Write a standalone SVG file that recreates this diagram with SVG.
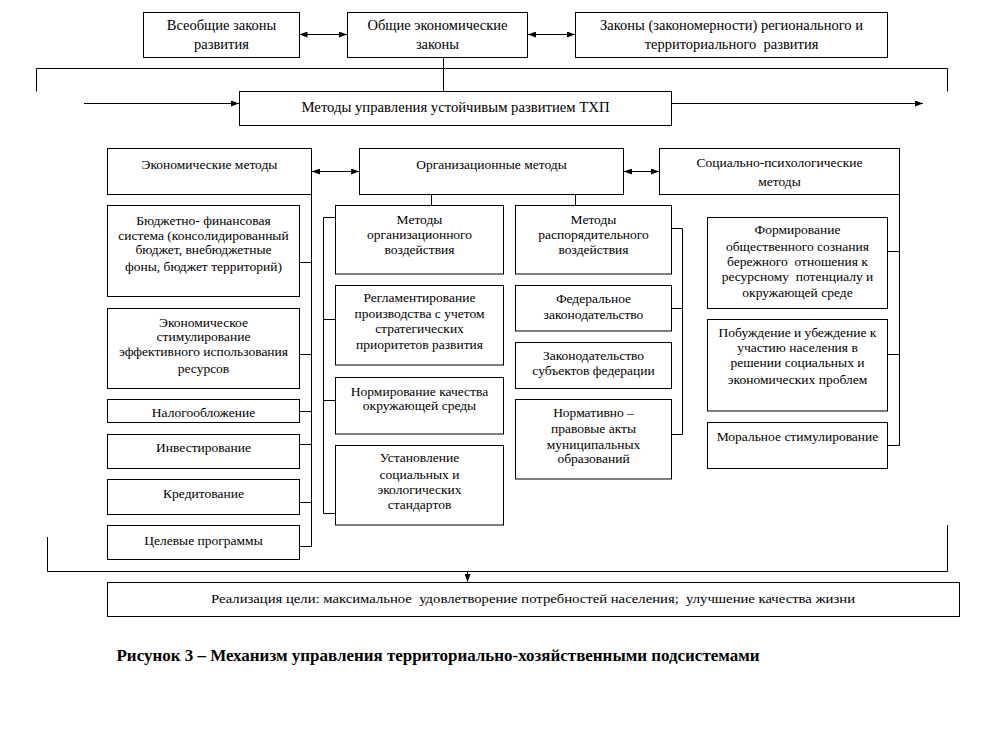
<svg xmlns="http://www.w3.org/2000/svg" width="996" height="754" viewBox="0 0 996 754">
<defs>
<marker id="arr" viewBox="0 0 8 6" refX="8" refY="3" markerWidth="8" markerHeight="6" markerUnits="userSpaceOnUse" orient="auto-start-reverse">
<path d="M0,0 L8,3 L0,6 Z" fill="#000"/>
</marker>
<style>
rect{fill:#fff;stroke:#000;stroke-width:1}
text{font-family:"Liberation Serif","Times New Roman",serif;font-size:13.5px;fill:#000;text-anchor:middle}
.big{font-size:14.5px}
.cap{font-size:16px;font-weight:bold}
.ln{fill:none;stroke:#000;stroke-width:1}
.a1{marker-end:url(#arr)}
.a2{marker-start:url(#arr);marker-end:url(#arr)}
</style>
</defs>
<rect x="0" y="0" width="996" height="754" style="fill:#fff;stroke:none"/>
<g id="connectors">
<path class="ln a2" d="M299.5,34.5 H347"/>
<path class="ln a2" d="M528,34.5 H575"/>
<path class="ln a2" d="M312,171.5 H359"/>
<path class="ln a2" d="M624,171.5 H659"/>
<path class="ln a1" d="M84,103.5 H239"/>
<path class="ln a1" d="M672,103.5 H923"/>
<path class="ln a1" d="M467.5,572 V582"/>
<path class="ln" d="M443.5,57.5 V91.5"/>
<path class="ln" d="M36.5,91.5 V68.5 H947.5 V91.5"/>
<path class="ln" d="M47.5,537 V571.5 H947.5 V525"/>
<path class="ln" d="M311.5,194.5 V546.5 M299.5,262.5 H311.5 M299.5,354.5 H311.5 M299.5,411.5 H311.5 M299.5,444.5 H311.5 M299.5,502.5 H311.5 M299.5,546.5 H311.5"/>
<path class="ln" d="M323.5,217.5 V513.5 M323.5,217.5 H335.5 M323.5,319.5 H335.5 M323.5,400.5 H335.5 M323.5,513.5 H335.5"/>
<path class="ln" d="M431.5,194.5 V205.5 M575.5,194.5 V205.5"/>
<path class="ln" d="M682.5,228.5 V434.5 M671.5,228.5 H682.5 M671.5,308.5 H682.5 M671.5,434.5 H682.5"/>
<path class="ln" d="M899.5,194.5 V445.5 M887.5,251.5 H899.5 M887.5,354.5 H899.5 M887.5,445.5 H899.5"/>
</g>
<g id="n-vseobshie"><rect x="143.5" y="12.5" width="156" height="45"/><text class="big" x="221.5" y="29.5">Всеобщие законы</text><text class="big" x="221.5" y="48.5">развития</text></g>
<g id="n-obshie"><rect x="347.5" y="12.5" width="180" height="45"/><text class="big" x="437.5" y="29.5">Общие экономические</text><text class="big" x="437.5" y="48.5">законы</text></g>
<g id="n-regional"><rect x="575.5" y="12.5" width="312" height="45"/><text class="big" x="731.5" y="29.5">Законы (закономерности) регионального и</text><text class="big" x="731.5" y="48.5" xml:space="preserve">территориального  развития</text></g>
<g id="n-metody"><rect x="239.5" y="91.5" width="432" height="34"/><text class="big" x="455.5" y="112" textLength="308" lengthAdjust="spacingAndGlyphs">Методы управления устойчивым развитием ТХП</text></g>
<g id="n-econ"><rect x="107.5" y="148.5" width="204" height="46"/><text x="209.5" y="168.5">Экономические методы</text></g>
<g id="n-org"><rect x="359.5" y="148.5" width="264" height="46"/><text x="491.5" y="168.5">Организационные методы</text></g>
<g id="n-soc"><rect x="659.5" y="148.5" width="240" height="46"/><text x="779.5" y="167">Социально-психологические</text><text x="779.5" y="186">методы</text></g>
<g id="n-budget"><rect x="107.5" y="205.5" width="192" height="91"/><text x="203.5" y="225">Бюджетно- финансовая</text><text x="203.5" y="239.5">система (консолидированный</text><text x="203.5" y="254">бюджет, внебюджетные</text><text x="203.5" y="271">фоны, бюджет территорий)</text></g>
<g id="n-stim"><rect x="107.5" y="308.5" width="192" height="80"/><text x="203.5" y="327">Экономическое</text><text x="203.5" y="341">стимулирование</text><text x="203.5" y="356">эффективного использования</text><text x="203.5" y="373">ресурсов</text></g>
<g id="n-nalog"><rect x="107.5" y="399.5" width="192" height="23"/><text x="203.5" y="417">Налогообложение</text></g>
<g id="n-invest"><rect x="107.5" y="434.5" width="192" height="34"/><text x="203.5" y="452">Инвестирование</text></g>
<g id="n-kredit"><rect x="107.5" y="479.5" width="192" height="35"/><text x="203.5" y="498">Кредитование</text></g>
<g id="n-celev"><rect x="107.5" y="525.5" width="192" height="34"/><text x="203.5" y="545">Целевые программы</text></g>
<g id="n-metorg"><rect x="335.5" y="205.5" width="168" height="68.5"/><text x="419.5" y="224">Методы</text><text x="419.5" y="239">организационного</text><text x="419.5" y="254">воздействия</text></g>
<g id="n-reglam"><rect x="335.5" y="285.5" width="168" height="79.5"/><text x="419.5" y="302">Регламентирование</text><text x="419.5" y="318">производства с учетом</text><text x="419.5" y="333">стратегических</text><text x="419.5" y="349">приоритетов развития</text></g>
<g id="n-normir"><rect x="335.5" y="377.5" width="168" height="56.5"/><text x="419.5" y="396">Нормирование качества</text><text x="419.5" y="410">окружающей среды</text></g>
<g id="n-ustan"><rect x="335.5" y="445.5" width="168" height="79.5"/><text x="419.5" y="462">Установление</text><text x="419.5" y="479">социальных и</text><text x="419.5" y="494">экологических</text><text x="419.5" y="509">стандартов</text></g>
<g id="n-metrasp"><rect x="515.5" y="205.5" width="156" height="68.5"/><text x="593.5" y="224">Методы</text><text x="593.5" y="239">распорядительного</text><text x="593.5" y="254">воздействия</text></g>
<g id="n-feder"><rect x="515.5" y="285.5" width="156" height="45.5"/><text x="593.5" y="303">Федеральное</text><text x="593.5" y="319">законодательство</text></g>
<g id="n-zakon"><rect x="515.5" y="342.5" width="156" height="46"/><text x="593.5" y="360">Законодательство</text><text x="593.5" y="375">субъектов федерации</text></g>
<g id="n-normat"><rect x="515.5" y="399.5" width="156" height="79.5"/><text x="593.5" y="417">Нормативно –</text><text x="593.5" y="433">правовые акты</text><text x="593.5" y="449">муниципальных</text><text x="593.5" y="463">образований</text></g>
<g id="n-form"><rect x="707.5" y="217.5" width="180" height="91"/><text x="797.5" y="234">Формирование</text><text x="797.5" y="251">общественного сознания</text><text x="797.5" y="266" xml:space="preserve">бережного  отношения к</text><text x="797.5" y="281" xml:space="preserve">ресурсному  потенциалу и</text><text x="797.5" y="297">окружающей среде</text></g>
<g id="n-pobuzh"><rect x="707.5" y="319.5" width="180" height="91.5"/><text x="797.5" y="337">Побуждение и убеждение к</text><text x="797.5" y="352">участию населения в</text><text x="797.5" y="367">решении социальных и</text><text x="797.5" y="384">экономических проблем</text></g>
<g id="n-moral"><rect x="707.5" y="422.5" width="180" height="46"/><text x="797.5" y="441">Моральное стимулирование</text></g>
<g id="n-result"><rect x="107.5" y="582.5" width="852" height="34"/><text x="533" y="603" xml:space="preserve" textLength="644" lengthAdjust="spacingAndGlyphs">Реализация цели: максимальное  удовлетворение потребностей населения;  улучшение качества жизни</text></g>
<text class="cap" x="438" y="661" textLength="643" lengthAdjust="spacingAndGlyphs">Рисунок 3 – Механизм управления территориально-хозяйственными подсистемами</text>
</svg>
